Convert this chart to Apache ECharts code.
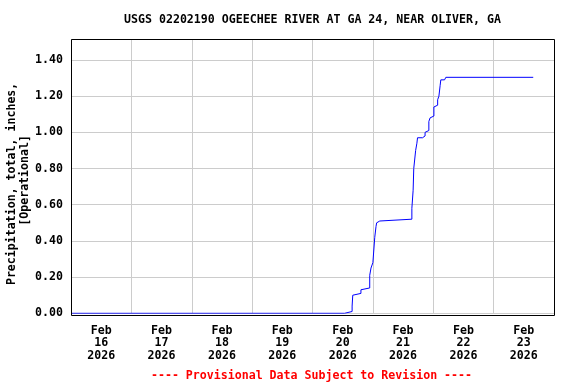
<!DOCTYPE html>
<html>
<head>
<meta charset="utf-8">
<script src="https://cdn.jsdelivr.net/npm/echarts@6/dist/echarts.min.js"></script>
<style>html,body{margin:0;padding:0;background:#fff}#c{width:576px;height:384px}</style>
</head>
<body>
<div id="c"></div>
<script>
const titleText = 'USGS 02202190 OGEECHEE RIVER AT GA 24, NEAR OLIVER, GA';
const footerText = '---- Provisional Data Subject to Revision ----';
const yAxisName = 'Precipitation, total, inches, \n[Operational]';
const startDate = '2026-02-16 00:00';
const endDate = '2026-02-24 00:00';
const yTicks = [0, 0.2, 0.4, 0.6, 0.8, 1.0, 1.2, 1.4];
const months = ['Jan','Feb','Mar','Apr','May','Jun','Jul','Aug','Sep','Oct','Nov','Dec'];

// Cumulative precipitation: time at which the total stepped up, and the new total (inches)
const times = [
  '2026-02-16 00:00','2026-02-20 12:45','2026-02-20 15:45','2026-02-20 16:00','2026-02-20 16:45',
  '2026-02-20 19:15','2026-02-20 20:00','2026-02-20 22:45','2026-02-20 23:15','2026-02-21 00:00',
  '2026-02-21 00:45','2026-02-21 01:15','2026-02-21 01:30','2026-02-21 02:00','2026-02-21 02:45',
  '2026-02-21 15:30','2026-02-21 16:00','2026-02-21 16:15','2026-02-21 17:00','2026-02-21 17:30',
  '2026-02-21 17:45','2026-02-21 19:45','2026-02-21 20:45','2026-02-21 21:30','2026-02-21 22:15',
  '2026-02-21 22:45','2026-02-21 23:30','2026-02-22 00:15','2026-02-22 01:00','2026-02-22 01:45',
  '2026-02-22 02:15','2026-02-22 02:45','2026-02-22 03:00','2026-02-22 04:30','2026-02-22 05:00',
  '2026-02-23 15:45'
];
const values = [
  0.00, 0.01, 0.04, 0.10, 0.11,
  0.13, 0.14, 0.21, 0.25, 0.28,
  0.42, 0.48, 0.50, 0.51, 0.52,
  0.58, 0.68, 0.80, 0.90, 0.94,
  0.97, 0.98, 1.00, 1.01, 1.06,
  1.08, 1.09, 1.14, 1.15, 1.18,
  1.20, 1.26, 1.29, 1.297, 1.304,
  1.304
];

function ts(s) { return Date.parse(s.replace(' ', 'T') + ':00Z'); }
const H = 3600 * 1000;
const tMin = ts(startDate), tMax = ts(endDate);
const data = times.map((t, i) => [ts(t), values[i]]);

const FONT = '"DejaVu Sans Mono", monospace';
const chart = echarts.init(document.getElementById('c'), null, {renderer: 'canvas'});
chart.setOption({
  animation: false,
  backgroundColor: '#ffffff',
  grid: {left: 71, right: 22, top: 39.5, bottom: 70.7, containLabel: false, outerBoundsMode: 'none', show: false},
  xAxis: [
    {
      type: 'value', min: tMin, max: tMax, interval: 12 * H,
      axisLine: {show: false}, axisTick: {show: false}, splitLine: {show: false},
      axisLabel: {
        margin: 11, color: '#000', fontFamily: FONT, fontWeight: 'bold', fontSize: 11.6, lineHeight: 12.7,
        showMinLabel: true, showMaxLabel: true, hideOverlap: false,
        formatter: function (v) {
          const d = new Date(v);
          if (d.getUTCHours() !== 12) return '';
          return months[d.getUTCMonth()] + '\n' + d.getUTCDate() + '\n' + d.getUTCFullYear();
        }
      }
    },
    {
      type: 'value', min: tMin, max: tMax, interval: 24 * H, position: 'bottom',
      axisLine: {show: false}, axisTick: {show: false}, axisLabel: {show: false},
      splitLine: {show: true, lineStyle: {color: '#cccccc', width: 1}}
    }
  ],
  yAxis: {
    type: 'value', min: 0, max: 1.513, interval: 0.2,
    name: yAxisName, nameLocation: 'middle', nameRotate: 90, nameGap: 39.5, nameMoveOverlap: false,
    nameTextStyle: {color: '#000', fontFamily: FONT, fontWeight: 'bold', fontSize: 11.6, lineHeight: 13.3, align: 'center', padding: [0, 8, 0, 0]},
    axisLine: {show: false}, axisTick: {show: false},
    splitLine: {show: true, lineStyle: {color: '#cccccc', width: 1}},
    axisLabel: {
      margin: 8, color: '#000', fontFamily: FONT, fontWeight: 'bold', fontSize: 11.6,
      showMaxLabel: false,
      formatter: function (v) { return yTicks.some(t => Math.abs(t - v) < 1e-6) ? v.toFixed(2) : ''; }
    }
  },
  series: [{
    type: 'line', xAxisIndex: 0, data: data, step: 'end', showSymbol: false, symbol: 'none',
    lineStyle: {color: '#0000ff', width: 1}, z: 5
  }],
  graphic: [
    {type: 'rect', z: 100, shape: {x: 71.5, y: 39.5, width: 483, height: 276},
     style: {fill: 'none', stroke: '#000000', lineWidth: 1}},
    {type: 'text', z: 100, x: 312.5, y: 19.5,
     style: {text: titleText, fill: '#000', font: 'bold 11.6px ' + FONT, textAlign: 'center', textVerticalAlign: 'middle'}},
    {type: 'text', z: 100, x: 311.5, y: 375.5,
     style: {text: footerText, fill: '#ff0000', font: 'bold 11.6px ' + FONT, textAlign: 'center', textVerticalAlign: 'middle'}}
  ]
});
</script>
</body>
</html>
